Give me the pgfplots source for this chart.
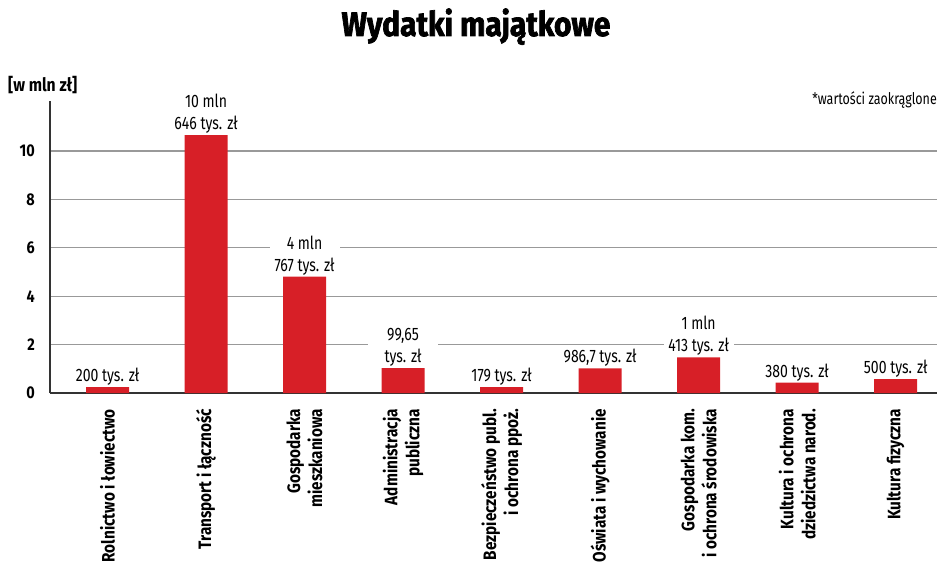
\documentclass[border=0pt]{standalone}
\usepackage{pgfplots}
\pgfplotsset{compat=1.18}
\usepackage{fontspec}
\setmainfont[FakeStretch=0.78]{Fira Sans}
\newfontfamily\labfont[FakeStretch=0.85]{Fira Sans}
\newfontfamily\titlefont[FakeStretch=0.88,BoldFeatures={FakeBold=2}]{Fira Sans}
\definecolor{barred}{RGB}{215,31,39}
\begin{document}
\begin{tikzpicture}
\begin{axis}[
  scale only axis, width=887pt, height=292pt,
  xmin=-0.584, xmax=8.42, ymin=0, ymax=12.07,
  axis x line=bottom, axis y line=left,
  axis line style={draw=black!80, line width=1.3pt, -},
  ytick={0,2,4,6,8,10},
  ymajorgrids, grid style={black!40, line width=1.2pt},
  major tick length=0pt,
  /pgf/number format/assume math mode=true,
  yticklabel style={font=\labfont\bfseries\fontsize{17}{20}\selectfont, inner sep=0pt, xshift=-15pt},
  xtick={0,...,8},
  xticklabels={Rolnictwo i łowiectwo, Transport i łączność, {Gospodarka\\mieszkaniowa}, {Administracja\\publiczna}, {Bezpieczeństwo publ.\\i ochrona ppoż.}, Oświata i wychowanie, {Gospodarka kom.\\i ochrona środowiska}, {Kultura i ochrona\\dziedzictwa narod.}, Kultura fizyczna},
  xticklabel style={yshift=-16pt, rotate=90, anchor=east, align=right, inner sep=0pt, font=\labfont\bfseries\fontsize{18}{22}\selectfont},
]
\addplot[ybar, bar width=43pt, fill=barred, draw=none,
  point meta=explicit symbolic, nodes near coords,
  every node near coord/.append style={font=\fontsize{18}{22}\selectfont, align=center, fill=white, inner sep=1.5pt, minimum width=70pt, anchor=south, text=black}]
coordinates {
(0,0.26) [200 tys. zł]
(1,10.66) [{10 mln\\646 tys. zł}]
(2,4.81) [{4 mln\\767 tys. zł}]
(3,1.03) [{99,65\\tys. zł}]
(4,0.26) [179 tys. zł]
(5,1.02) [986,7 tys. zł]
(6,1.47) [{1 mln\\413 tys. zł}]
(7,0.43) [380 tys. zł]
(8,0.57) [500 tys. zł]
};
\end{axis}
\node[anchor=base, font=\titlefont\bfseries\fontsize{34}{38}\selectfont] at (426pt,357pt) {Wydatki majątkowe};
\node[anchor=base west, inner sep=0pt, font=\labfont\bfseries\fontsize{18.5}{20}\selectfont] at (-42pt,301pt) {[w mln zł]};
\node[anchor=base east, inner sep=0pt, font=\fontsize{16}{20}\selectfont] at (887pt,288pt) {*wartości zaokrąglone};
\pgfresetboundingbox
\path[use as bounding box] (-50pt,-174pt) rectangle (889pt,393pt);
\end{tikzpicture}
\end{document}
